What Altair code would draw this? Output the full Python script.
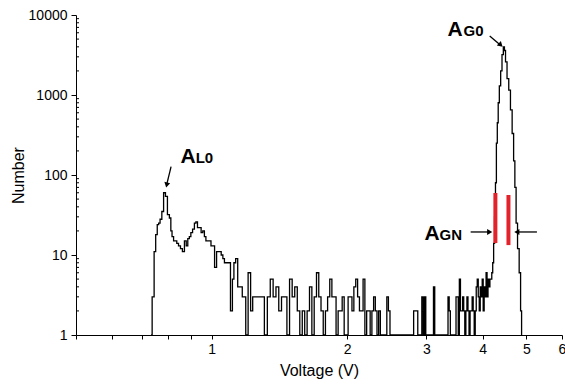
import altair as alt
import pandas as pd

# ---- data ----
# left peak (A_L0) : voltage, counts
volts_left = [0.734, 0.742, 0.749, 0.754, 0.761, 0.765, 0.772, 0.779, 0.786, 0.794,
              0.802, 0.810, 0.814, 0.820, 0.827, 0.834, 0.840, 0.849, 0.857, 0.866,
              0.875, 0.882, 0.889, 0.896, 0.903, 0.912, 0.920, 0.926, 0.935, 0.944,
              0.952, 0.960, 0.968, 0.975, 0.985, 0.993, 1.001, 1.010, 1.021, 1.031,
              1.046, 1.055, 1.064, 1.072, 1.080, 1.095, 1.108, 1.117, 1.125, 1.137,
              1.149, 1.165, 1.175, 1.185, 1.197, 1.214, 1.228, 1.240]
counts_left = [1, 3, 11, 18, 24, 25, 28, 35, 60, 54,
               32, 29, 20, 17, 15, 15, 14, 13, 12, 11,
               15, 13, 16, 17, 19, 21, 25, 26, 22, 22,
               19, 20, 17, 15, 15, 15, 13, 13, 7, 11,
               11, 10, 9, 8, 8, 8, 2, 5, 8, 9,
               4, 4, 3, 3, 1, 6, 2, 3]

# noisy background: bins of 0.02 V starting at 1.26 V
NOISE_START = 1.26
NOISE_STEP = 0.02
counts_noise = [3, 3, 3, 1, 3, 5, 3, 4, 2, 3,
                3, 1, 5, 3, 4, 2, 1, 2, 1, 2,
                4, 1, 3, 6, 3, 2, 1, 2, 3, 5,
                3, 3, 1, 2, 2, 3, 1, 1, 3, 3,
                2, 4, 5, 3, 2, 2, 5, 1, 2, 2,
                1, 2, 3, 2, 1, 2, 1, 1, 1, 1,
                3, 2, 1, 1, 1, 1, 1, 1, 1, 1,
                1, 1, 1, 1, 1, 1, 1, 1, 2, 2,
                2, 1, 1, 1, 3, 1, 3, 1, 1, 1,
                1, 1, 1, 4, 1, 1, 1, 1, 1, 1,
                1, 1, 1, 1, 1, 3, 2, 1, 1, 1,
                1, 1, 3, 3, 1, 5, 2, 2, 3, 2,
                1, 2, 3, 2, 1, 2, 2, 3, 2, 1,
                2, 4, 5, 3, 2, 4, 3, 5, 2, 4,
                3, 6, 3, 5, 4, 5]

# right peak (A_G0)
volts_peak = [4.18, 4.20, 4.22, 4.24, 4.26, 4.28, 4.30, 4.32, 4.34, 4.37,
              4.40, 4.43, 4.46, 4.48, 4.51, 4.55, 4.59, 4.63, 4.67, 4.70,
              4.73, 4.76, 4.80, 4.84, 4.87, 4.89]
counts_peak = [5, 6, 8, 14, 30, 80, 250, 450, 800, 1300,
               2000, 3200, 4000, 3600, 2600, 1600, 1150, 650, 330, 150,
               70, 25, 12, 6, 2, 1]

volts_noise = [round(NOISE_START + i * NOISE_STEP, 2) for i in range(len(counts_noise))]
df = pd.DataFrame({
    "V": volts_left + volts_noise + volts_peak,
    "N": counts_left + counts_noise + counts_peak,
})

# annotations (data coordinates)
bars = pd.DataFrame({"V": [4.268, 4.563], "N": [59.6, 56.2], "N2": [14.1, 13.3]})
shafts = pd.DataFrame({
    "V": [0.813, 4.146, 3.761, 5.278],
    "N": [127, 5465, 19.4, 19.4],
    "V2": [0.795, 4.39, 4.15, 4.76],
    "N2": [76, 4150, 19.4, 19.4],
})
heads = pd.DataFrame({
    "V": [0.795, 4.386, 4.146, 4.763],
    "N": [75, 4217, 19.4, 19.4],
    "ang": [13, 313, 270, 90],
})
big_txt = pd.DataFrame({"V": [0.853, 3.342, 2.970], "N": [141, 5465, 15.4], "t": ["A", "A", "A"]})
sub_txt = pd.DataFrame({"V": [0.922, 3.627, 3.208], "N": [141, 5465, 15.4], "t": ["L0", "G0", "GN"]})

FONT = "Liberation Sans"
x_ticks = [0.5, 0.6, 0.7, 0.8, 0.9, 1, 2, 3, 4, 5, 6]
y_major = [1, 10, 100, 1000, 10000]
y_minor = [m * d for d in [1, 10, 100, 1000] for m in range(2, 10)]
minor_df = pd.DataFrame({"V": [0.5] * len(y_minor), "N": y_minor})

xs = alt.Scale(type="log", domain=[0.5, 6], nice=False)
ys = alt.Scale(type="log", domain=[1, 10000], nice=False)

x_axis = alt.Axis(values=x_ticks, labelExpr="datum.value >= 1 ? format(datum.value, 'd') : ''",
                  tickSize=4, labelPadding=3, labelFontSize=14, labelFont=FONT,
                  title="Voltage (V)", titleFontSize=16, titleFont=FONT, titleFontWeight="normal",
                  titlePadding=6, grid=False, labelFlush=False, labelOverlap=False,
                  domainColor="black", tickColor="black", labelColor="black", titleColor="black")
y_axis = alt.Axis(values=y_major, format="d", tickSize=5, labelPadding=4, labelFontSize=14,
                  labelFont=FONT, title="Number", titleFontSize=16, titleFont=FONT,
                  titleFontWeight="normal", titlePadding=2, grid=False, labelFlush=False,
                  orient="left", domainColor="black", tickColor="black", labelColor="black",
                  titleColor="black")

line = alt.Chart(df).mark_line(color="black", strokeWidth=1.3, interpolate="step").encode(
    x=alt.X("V:Q", scale=xs, axis=x_axis),
    y=alt.Y("N:Q", scale=ys, axis=y_axis),
)

minor = alt.Chart(minor_df).mark_tick(orient="horizontal", size=3, thickness=1,
                                      color="black", xOffset=1.5, opacity=1).encode(
    x=alt.X("V:Q", scale=xs), y=alt.Y("N:Q", scale=ys)
)

red = alt.Chart(bars).mark_rule(color="#e3232b", strokeWidth=4).encode(
    x=alt.X("V:Q", scale=xs),
    y=alt.Y("N:Q", scale=ys),
    y2="N2:Q",
)

shaft = alt.Chart(shafts).mark_rule(color="black", strokeWidth=1.3).encode(
    x=alt.X("V:Q", scale=xs), y=alt.Y("N:Q", scale=ys), x2="V2:Q", y2="N2:Q"
)
head = alt.Chart(heads).mark_point(shape="triangle-down", filled=True, color="black",
                                   size=35, opacity=1).encode(
    x=alt.X("V:Q", scale=xs), y=alt.Y("N:Q", scale=ys), angle=alt.Angle("ang:Q", scale=None)
)
big = alt.Chart(big_txt).mark_text(font=FONT, fontSize=21, fontWeight="bold", align="left",
                                   baseline="alphabetic", color="black").encode(
    x=alt.X("V:Q", scale=xs), y=alt.Y("N:Q", scale=ys), text="t:N"
)
small = alt.Chart(sub_txt).mark_text(font=FONT, fontSize=15, fontWeight="bold", align="left",
                                     baseline="alphabetic", color="black").encode(
    x=alt.X("V:Q", scale=xs), y=alt.Y("N:Q", scale=ys), text="t:N"
)

chart = alt.layer(line, minor, red, shaft, head, big, small).properties(
    width=486, height=320,
    autosize=alt.AutoSizeParams(type="none"),
    padding={"left": 76, "top": 15, "right": 3, "bottom": 49},
    background="white",
).configure_view(stroke=None)

chart.save("out.html", embed_options={"renderer": "svg", "actions": False})
